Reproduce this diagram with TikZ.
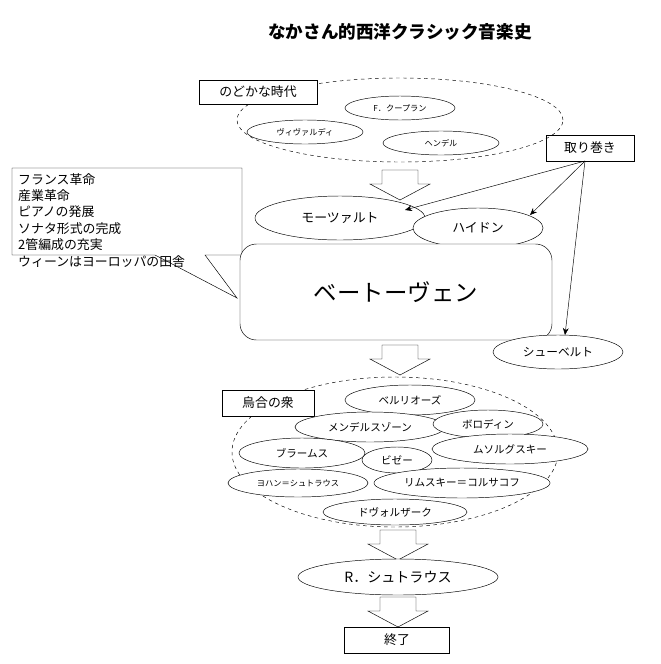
\documentclass[tikz,border=0pt]{standalone}
\usepackage{fontspec}
\setmainfont{Noto Sans CJK JP}
\usetikzlibrary{shapes.geometric,arrows.meta}
\newlength\pxu \setlength\pxu{0.8536pt}
\begin{document}
\begin{tikzpicture}[x=0.03cm,y=-0.03cm,
  el/.style={draw,ellipse,inner sep=0pt,font=\fontsize{7}{8}\selectfont},
  box/.style={draw,rectangle,inner sep=2pt,font=\fontsize{11}{12}\selectfont},
  grp/.style={draw,dashed,ellipse,inner sep=0pt},
  arr/.style={-{Stealth[length=6pt,width=5pt]}},
  pics/barrow/.style={code={\draw[fill=white] (-18,0)--(18,0)--(18,14)--(30,14)--(0,30)--(-30,14)--(-18,14)--cycle;}}]
\useasboundingbox (0,0) rectangle (660,664);
\node[font=\fontsize{15}{16}\selectfont\bfseries] (t) at (400,32) {なかさん的西洋クラシック音楽史};
% top group
\node[grp,minimum width=326\pxu,minimum height=84\pxu] (g1) at (400,120) {};
\node[box,fill=white,minimum width=118\pxu,minimum height=24\pxu] (b1) at (258,92) {のどかな時代};
\node[el,minimum width=110\pxu,minimum height=24\pxu] (e1) at (400,108) {F．クープラン};
\node[el,minimum width=116\pxu,minimum height=24\pxu] (e2) at (305,132) {ヴィヴァルディ};
\node[el,minimum width=116\pxu,minimum height=24\pxu] (e3) at (441,143) {ヘンデル};
\pic at (400,170) {barrow};
\node[box,minimum width=88\pxu,minimum height=26\pxu] (tm) at (590,148) {取り巻き};
% callout
\draw (12,168)--(242,168)--(242,255)--(205,255)--(237,298)--(155,255)--(12,255)--cycle;
\node[anchor=north west,align=left,font=\fontsize{11}{14}\selectfont,inner sep=0pt] (cl) at (18,173) {フランス革命\\産業革命\\ピアノの発展\\ソナタ形式の完成\\2管編成の充実\\ウィーンはヨーロッパの田舎};
\node[draw,ellipse,fill=white,minimum width=170\pxu,minimum height=44\pxu,inner sep=0pt,font=\fontsize{11}{12}\selectfont] (mo) at (340,218) {モーツァルト};
\node[draw,ellipse,fill=white,minimum width=130\pxu,minimum height=40\pxu,inner sep=0pt,font=\fontsize{11}{12}\selectfont] (hy) at (478,228) {ハイドン};
\node[draw,rounded corners=14pt,fill=white,minimum width=312\pxu,minimum height=96\pxu,font=\fontsize{20}{22}\selectfont] (be) at (396,292) {ベートーヴェン};
\node[draw,ellipse,fill=white,minimum width=130\pxu,minimum height=34\pxu,inner sep=0pt,font=\fontsize{10}{12}\selectfont] (sc) at (558,352) {シューベルト};
\coordinate (tmb) at (585,161);
\draw[arr] (tmb) -- (405,210);
\draw[arr] (tmb) -- (530,215);
\draw[arr] (tmb) -- (565,335);
\pic at (400,345) {barrow};
% middle group
\node[grp,minimum width=326\pxu,minimum height=150\pxu] (g2) at (395,452) {};
\node[box,fill=white,minimum width=92\pxu,minimum height=26\pxu] (b2) at (268,403) {烏合の衆};
\tikzset{el2/.style={draw,ellipse,fill=white,inner sep=0pt,font=\fontsize{9}{10}\selectfont}}
\node[el2,minimum width=130\pxu,minimum height=30\pxu] (c1) at (410,400) {ベルリオーズ};
\node[el2,minimum width=150\pxu,minimum height=30\pxu] (c2) at (370,427) {メンデルスゾーン};
\node[el2,minimum width=110\pxu,minimum height=28\pxu] (c3) at (488,424) {ボロディン};
\node[el2,minimum width=126\pxu,minimum height=30\pxu] (c4) at (302,453) {ブラームス};
\node[el2,minimum width=156\pxu,minimum height=30\pxu] (c6) at (510,449) {ムソルグスキー};
\node[el2,minimum width=70\pxu,minimum height=26\pxu] (c5) at (397,460) {ビゼー};
\node[el2,minimum width=140\pxu,minimum height=28\pxu,font=\fontsize{7}{8}\selectfont] (c7) at (298,483) {ヨハン＝シュトラウス};
\node[el2,minimum width=176\pxu,minimum height=30\pxu] (c8) at (462,483) {リムスキー＝コルサコフ};
\node[el2,minimum width=144\pxu,minimum height=26\pxu] (c9) at (395,512) {ドヴォルザーク};
\pic at (398,530) {barrow};
\node[draw,ellipse,fill=white,minimum width=200\pxu,minimum height=36\pxu,inner sep=0pt,font=\fontsize{12}{14}\selectfont] (rs) at (398,577) {R．シュトラウス};
\pic at (398,597) {barrow};
\node[box,fill=white,minimum width=105\pxu,minimum height=26\pxu] (end) at (397,640) {終了};
\end{tikzpicture}
\end{document}
